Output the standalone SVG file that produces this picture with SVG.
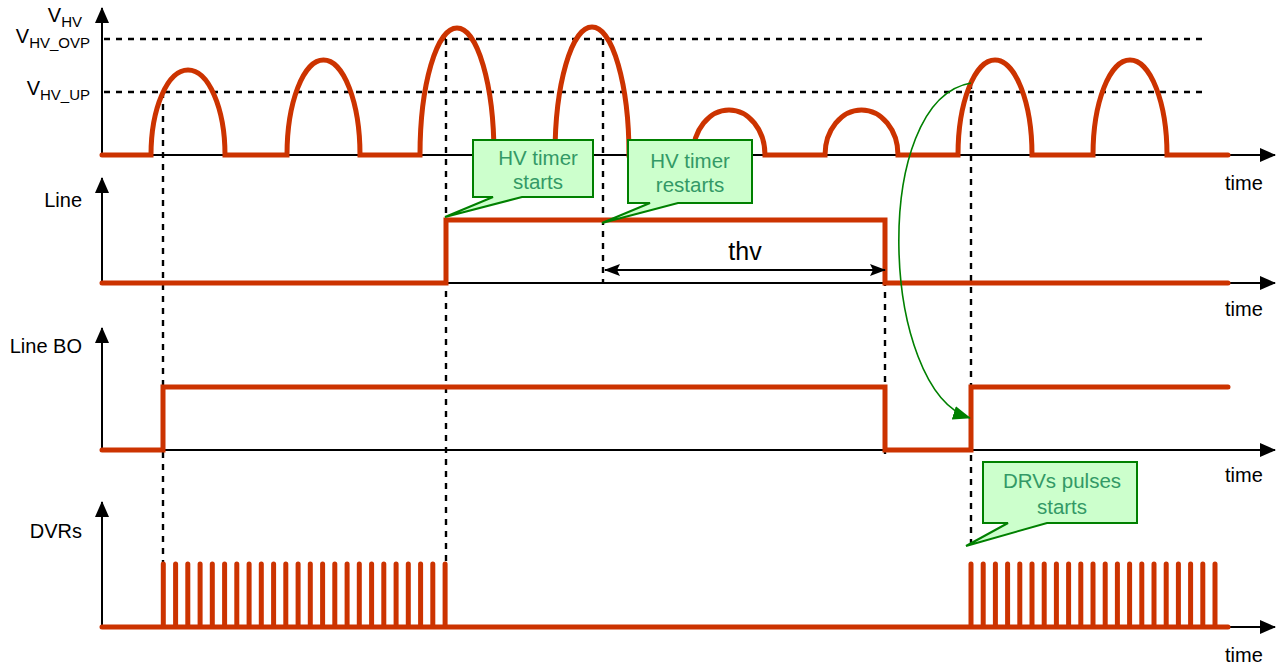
<svg xmlns="http://www.w3.org/2000/svg" width="1276" height="667" viewBox="0 0 1276 667">
<style>
.ax{stroke:#000;stroke-width:2;fill:none}
.dash{stroke:#000;stroke-width:2.4;stroke-dasharray:6,6;fill:none}
.sig{stroke:#cc3300;stroke-width:5;fill:none;stroke-linecap:round;stroke-linejoin:miter}
.lbl{font-family:"Liberation Sans",Arial,sans-serif;font-size:20px;fill:#000}
.sub{font-size:15px}
.big{font-size:25px}
.co{fill:#ccffcc;stroke:#008000;stroke-width:2}
.cot{font-family:"Liberation Sans",Arial,sans-serif;font-size:20.5px;fill:#339966;text-anchor:middle}
</style>
<defs>
<marker id="ah" markerUnits="userSpaceOnUse" markerWidth="16" markerHeight="14" refX="15" refY="7" orient="auto">
<path d="M0,0 L16,7 L0,14 Z" fill="#000"/>
</marker>
<marker id="ahd" markerUnits="userSpaceOnUse" markerWidth="16" markerHeight="12" refX="15" refY="6" orient="auto-start-reverse">
<path d="M0,0 L16,6 L0,12 L3,6 Z" fill="#000"/>
</marker>
<marker id="gh" markerUnits="userSpaceOnUse" markerWidth="18" markerHeight="14" refX="17" refY="7" orient="auto">
<path d="M0,0 L18,7 L0,14 Z" fill="#008000"/>
</marker>
</defs>

<g id="guides">
<line class="dash" x1="104" y1="39" x2="1205" y2="39"/>
<line class="dash" x1="104" y1="92" x2="1205" y2="92"/>
<line class="dash" x1="163" y1="92" x2="163" y2="563"/>
<line class="dash" x1="446" y1="39" x2="446" y2="563"/>
<line class="dash" x1="603" y1="39" x2="603" y2="283"/>
<line class="dash" x1="885" y1="220" x2="885" y2="455"/>
<line class="dash" x1="971" y1="83" x2="971" y2="545"/>
</g>

<g id="axes">
<line class="ax" x1="102" y1="155" x2="102" y2="8" marker-end="url(#ah)"/>
<line class="ax" x1="102" y1="155" x2="1275" y2="155" marker-end="url(#ah)"/>
<line class="ax" x1="102" y1="283" x2="102" y2="178" marker-end="url(#ah)"/>
<line class="ax" x1="102" y1="283" x2="1275" y2="283" marker-end="url(#ah)"/>
<line class="ax" x1="102" y1="450" x2="102" y2="328" marker-end="url(#ah)"/>
<line class="ax" x1="102" y1="450" x2="1275" y2="450" marker-end="url(#ah)"/>
<line class="ax" x1="102" y1="627" x2="102" y2="502" marker-end="url(#ah)"/>
<line class="ax" x1="102" y1="627" x2="1275" y2="627" marker-end="url(#ah)"/>
</g>

<g id="signal-vhv">
<path class="sig" d="M102,155 H151 A37,85 0 0 1 225,155 H287 A36.5,95 0 0 1 360,155 H420 A37,127 0 0 1 494,155 H555 A37,128 0 0 1 629,155 H693 A36,45 0 0 1 765,155 H825 A36.5,45 0 0 1 898,155 H958 A37,95 0 0 1 1032,155 H1093 A37,95 0 0 1 1167,155 H1228"/>
</g>
<g id="signal-line">
<path class="sig" d="M102,283 H446 V220 H885 V283 H1228"/>
</g>
<g id="signal-linebo">
<path class="sig" d="M102,450 H163 V387 H885 V450 H971 V387 H1228"/>
</g>
<g id="signal-dvrs">
<path class="sig" d="M102,627 H1228 M163.3,627 V564 M175.6,627 V564 M187.8,627 V564 M200.1,627 V564 M212.3,627 V564 M224.6,627 V564 M236.8,627 V564 M249.1,627 V564 M261.3,627 V564 M273.6,627 V564 M285.8,627 V564 M298.1,627 V564 M310.3,627 V564 M322.6,627 V564 M334.8,627 V564 M347.1,627 V564 M359.3,627 V564 M371.6,627 V564 M383.8,627 V564 M396.1,627 V564 M408.3,627 V564 M420.6,627 V564 M432.8,627 V564 M445.1,627 V564 M971,627 V564 M983.2,627 V564 M995.4,627 V564 M1007.6,627 V564 M1019.8,627 V564 M1032,627 V564 M1044.2,627 V564 M1056.4,627 V564 M1068.6,627 V564 M1080.8,627 V564 M1093,627 V564 M1105.2,627 V564 M1117.4,627 V564 M1129.6,627 V564 M1141.8,627 V564 M1154,627 V564 M1166.2,627 V564 M1178.4,627 V564 M1190.6,627 V564 M1202.8,627 V564 M1215,627 V564"/>
</g>

<g id="connectors">
<line x1="605" y1="270" x2="885" y2="270" stroke="#000" stroke-width="2" marker-start="url(#ahd)" marker-end="url(#ahd)"/>
<path d="M971,83 C870,100 880,390 970,418" stroke="#008000" stroke-width="1.6" fill="none" marker-end="url(#gh)"/>
</g>

<g id="labels">
<text class="lbl" x="82" y="22" text-anchor="end">V<tspan class="sub" dy="5">HV</tspan></text>
<text class="lbl" x="90" y="43" text-anchor="end">V<tspan class="sub" dy="5">HV_OVP</tspan></text>
<text class="lbl" x="90" y="95" text-anchor="end">V<tspan class="sub" dy="5">HV_UP</tspan></text>
<text class="lbl" x="82" y="207" text-anchor="end">Line</text>
<text class="lbl" x="82" y="353" text-anchor="end">Line BO</text>
<text class="lbl" x="82" y="538" text-anchor="end">DVRs</text>
<text class="lbl" x="1225" y="190">time</text>
<text class="lbl" x="1225" y="316">time</text>
<text class="lbl" x="1225" y="482">time</text>
<text class="lbl" x="1225" y="662">time</text>
<text class="lbl big" x="745" y="260" text-anchor="middle">thv</text>
</g>

<g id="callout-hv-start">
<path class="co" d="M473,140 H593 V197 H522 L445,217 L493,197 H473 Z"/>
<text class="cot" x="538" y="165">HV timer</text>
<text class="cot" x="538" y="189">starts</text>
</g>
<g id="callout-hv-restart">
<path class="co" d="M628,140 H752 V203 H678 L602,223 L650,203 H628 Z"/>
<text class="cot" x="690" y="168">HV timer</text>
<text class="cot" x="690" y="192">restarts</text>
</g>
<g id="callout-drv">
<path class="co" d="M983,462 H1137 V523 H1047 L966,546 L1008,523 H983 Z"/>
<text class="cot" x="1062" y="488">DRVs pulses</text>
<text class="cot" x="1062" y="514">starts</text>
</g>
</svg>
